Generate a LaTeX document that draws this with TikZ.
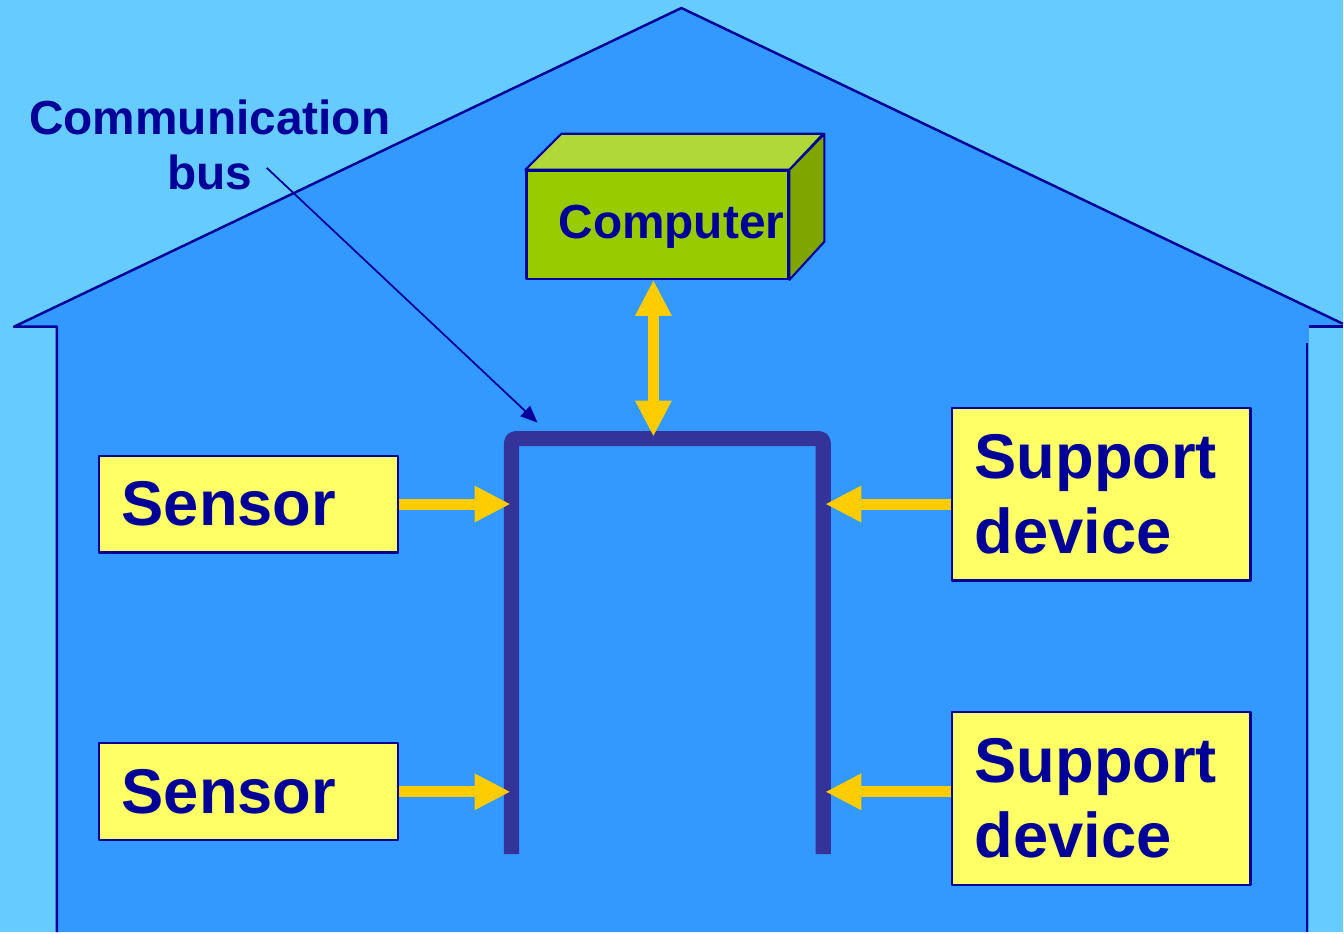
\documentclass[tikz,border=0pt]{standalone}
\usepackage{fontspec}
\setmainfont{Liberation Sans}
\usetikzlibrary{arrows.meta,positioning}

\definecolor{sky}{HTML}{66CCFF}
\definecolor{wall}{HTML}{3399FF}
\definecolor{navy}{HTML}{000099}
\definecolor{busline}{HTML}{333399}
\definecolor{boxyellow}{HTML}{FFFF66}
\definecolor{flow}{HTML}{FFCC00}
\definecolor{pcfront}{HTML}{99CC00}
\definecolor{pctop}{HTML}{B0D838}
\definecolor{pcside}{HTML}{7FA600}

\begin{document}
\begin{tikzpicture}[x=0.01cm,y=-0.01cm,line join=round,
	devbox/.style={draw=navy,line width=0.6pt,fill=boxyellow,text=navy,
		font=\fontsize{18}{21.3}\selectfont\bfseries,align=left,
		inner xsep=2.3mm,inner ysep=0pt,text width=25.3mm},
	flowarrow/.style={flow,line width=3.1pt,-{Triangle[width=3.4mm,length=3.6mm]}},
	pcface/.style={draw=navy,line width=0.6pt}]
	
	% Background
	\fill[sky] (0,0) rectangle (1344,933);
	
	% House
	\fill[wall] (57,933) -- (57,327) -- (14,327) -- (682,8) -- (1344,324)
		-- (1344,327) -- (1310,327) -- (1310,933) -- cycle;
	\draw[navy,line width=0.7pt] (57,933) -- (57,327) -- (14,327) -- (682,8) -- (1344,324);
	\draw[navy,line width=0.7pt] (1344,327) -- (1310,327);
	\draw[navy,line width=0.7pt] (1308,343) -- (1308,933);
	
	% Computer
	\node[pcface,fill=pcfront,minimum width=26.2mm,minimum height=10.8mm,inner sep=0pt]
		(computer) at (658,225) {};
	\fill[pctop,pcface] (computer.north west) -- ++(36,-36) -- ++(262,0)
		-- (computer.north east) -- cycle;
	\fill[pcside,pcface] (computer.north east) -- ++(35,-36) -- ++(0,108)
		-- (computer.south east) -- cycle;
	\node[text=navy,font=\fontsize{13.6}{16}\selectfont\bfseries]
		at ([xshift=1.4mm,yshift=-0.2mm]computer.center) {Computer};
	
	% Devices
	\node[devbox,minimum height=9.7mm] (sensorA) at (248.5,504.5) {Sensor};
	\node[devbox,minimum height=9.7mm] (sensorB) at (248.5,792.5) {Sensor};
	\node[devbox,minimum height=17.3mm] (supportA) at (1102,494.5) {Support\\device};
	\node[devbox,minimum height=17.3mm] (supportB) at (1102,799) {Support\\device};
	
	% Bus
	\coordinate (bl) at (511,439);
	\coordinate (br) at (826,439);
	\coordinate (cbus) at (654,437);
	\draw[busline,line width=4.3pt,rounded corners=0.4mm]
		(512,855) -- (512,439) -- (824,439) -- (824,855);
	
	% Label
	\node[text=navy,font=\fontsize{13.6}{15.5}\selectfont\bfseries,align=center]
		(commtext) at (210,145) {Communication\\bus};
	\coordinate (commstart) at (267,168);
	\coordinate (commend) at (538,423);
	\draw[navy,line width=0.5pt,-{Triangle[width=1.4mm,length=1.7mm]}] (commstart) -- (commend);
	
	% Data flow
	\draw[flowarrow] (sensorA.east) -- (sensorA.east -| bl);
	\draw[flowarrow] (sensorB.east) -- (sensorB.east -| bl);
	\draw[flowarrow] (supportA.west |- sensorA.east) -- (br |- sensorA.east);
	\draw[flowarrow] (supportB.west |- sensorB.east) -- (br |- sensorB.east);
	\draw[flowarrow,{Triangle[width=3.4mm,length=3.6mm]}-{Triangle[width=3.4mm,length=3.6mm]}]
		(computer.south -| cbus) -- (cbus);
	
\end{tikzpicture}
\end{document}
